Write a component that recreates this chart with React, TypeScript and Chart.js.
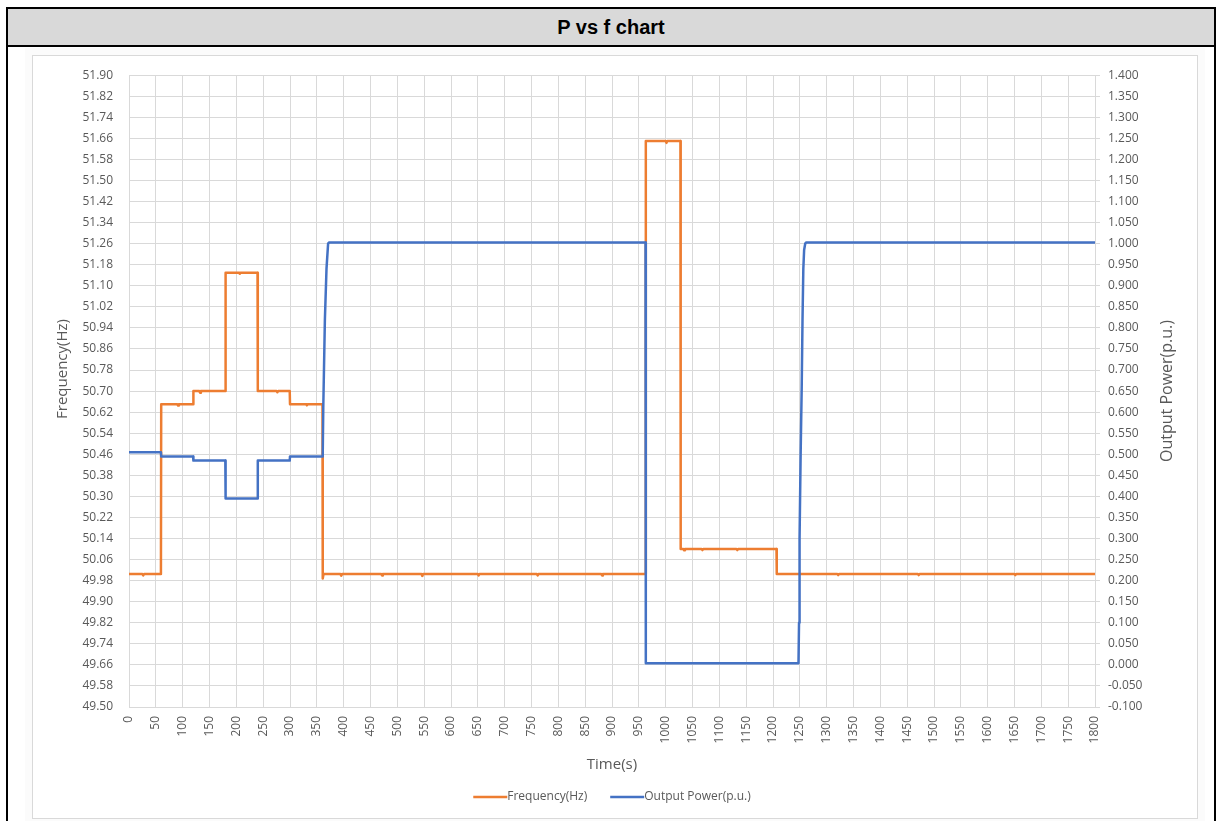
import React, { useEffect, useRef } from "react";
import { Chart, registerables } from "chart.js";

Chart.register(...registerables);

// ---------- data ----------
const freqTime = [
  0, 25, 26.5, 28, 59.5,
  60, 90, 91.5, 93, 119.5,
  120, 131, 132.5, 134, 179.5,
  180, 205, 206.5, 208, 239.5,
  240, 275, 276.5, 278, 299.5,
  300, 330, 331.5, 333, 360.5,
  361, 362.5,
  394, 395.5, 397,
  470, 471.5, 473,
  545, 546.5, 548,
  650, 651.5, 653,
  760, 761.5, 763,
  880, 881.5, 883,
  962.5,
  963, 1000, 1001.5, 1003, 1027.5,
  1028, 1033, 1034.5, 1036, 1067, 1068.5, 1070, 1132, 1133.5, 1135, 1206.5,
  1207, 1320, 1321.5, 1323, 1470, 1471.5, 1473, 1650, 1651.5, 1653, 1800,
];
const freqValue = [
  50.005, 50.005, 50.0, 50.005, 50.005,
  50.65, 50.65, 50.645, 50.65, 50.65,
  50.70, 50.70, 50.694, 50.70, 50.70,
  51.15, 51.15, 51.146, 51.15, 51.15,
  50.70, 50.70, 50.696, 50.70, 50.70,
  50.65, 50.65, 50.646, 50.65, 50.65,
  49.988, 50.005,
  50.005, 49.999, 50.005,
  50.005, 50.0, 50.005,
  50.005, 49.998, 50.005,
  50.005, 50.0, 50.005,
  50.005, 50.0, 50.005,
  50.005, 50.0, 50.005,
  50.005,
  51.65, 51.65, 51.643, 51.65, 51.65,
  50.10, 50.10, 50.095, 50.10, 50.10, 50.096, 50.10, 50.10, 50.096, 50.10, 50.10,
  50.005, 50.005, 50.001, 50.005, 50.005, 50.001, 50.005, 50.005, 50.001, 50.005, 50.005,
];

const powerTime = [
  0, 59.5, 60, 119.5, 120, 179.5, 180, 239.5, 240, 299.5, 300, 360.5,
  361, 362, 365, 368, 371, 373,
  962.5,
  963, 1247.5,
  1248.5, 1249.5, 1251.5, 1253.5, 1255, 1256.5, 1258, 1260, 1262,
  1800,
];
const powerValue = [
  0.505, 0.505, 0.495, 0.495, 0.485, 0.485, 0.395, 0.395, 0.485, 0.485, 0.495, 0.495,
  0.50, 0.61, 0.82, 0.94, 1.0, 1.003,
  1.003,
  0.004, 0.004,
  0.10, 0.30, 0.50, 0.66, 0.82, 0.94, 0.985, 1.0, 1.003,
  1.003,
];

const xTickLabels = [
  "0", "50", "100", "150", "200", "250", "300", "350", "400", "450", "500",
  "550", "600", "650", "700", "750", "800", "850", "900", "950", "1000",
  "1050", "1100", "1150", "1200", "1250", "1300", "1350", "1400", "1450",
  "1500", "1550", "1600", "1650", "1700", "1750", "1800",
];
const freqTickLabels = [
  "49.50", "49.58", "49.66", "49.74", "49.82", "49.90", "49.98", "50.06",
  "50.14", "50.22", "50.30", "50.38", "50.46", "50.54", "50.62", "50.70",
  "50.78", "50.86", "50.94", "51.02", "51.10", "51.18", "51.26", "51.34",
  "51.42", "51.50", "51.58", "51.66", "51.74", "51.82", "51.90",
];
const powerTickLabels = [
  "-0.100", "-0.050", "0.000", "0.050", "0.100", "0.150", "0.200", "0.250",
  "0.300", "0.350", "0.400", "0.450", "0.500", "0.550", "0.600", "0.650",
  "0.700", "0.750", "0.800", "0.850", "0.900", "0.950", "1.000", "1.050",
  "1.100", "1.150", "1.200", "1.250", "1.300", "1.350", "1.400",
];

const seriesNames = ["Frequency(Hz)", "Output Power(p.u.)"];
const chartTitle = "P vs f chart";
const xTitle = "Time(s)";
const yLeftTitle = "Frequency(Hz)";
const yRightTitle = "Output Power(p.u.)";

// ---------- styles ----------
const ORANGE = "#ED7D31";
const BLUE = "#4472C4";
const GRID = "#d9d9d9";
const TEXT = "#595959";
const FONT = '"Open Sans", sans-serif';

const CANVAS_TOP = 52;

const overlayPlugin = {
  id: "overlay",
  afterDraw(chart: any) {
    const { ctx } = chart;
    // axis titles (both read bottom-to-top)
    ctx.save();
    ctx.font = `15px ${FONT}`;
    ctx.fillStyle = TEXT;
    ctx.textAlign = "center";
    ctx.textBaseline = "middle";
    ctx.translate(30, 369 - CANVAS_TOP);
    ctx.rotate(-Math.PI / 2);
    ctx.fillText(yLeftTitle, 0, 0);
    ctx.restore();

    ctx.save();
    ctx.font = `16px ${FONT}`;
    ctx.fillStyle = TEXT;
    ctx.textAlign = "center";
    ctx.textBaseline = "middle";
    ctx.translate(1134, 391 - CANVAS_TOP);
    ctx.rotate(-Math.PI / 2);
    ctx.fillText(yRightTitle, 0, 0);
    ctx.restore();

    // legend
    ctx.save();
    ctx.font = `12px ${FONT}`;
    ctx.textBaseline = "middle";
    ctx.textAlign = "left";
    const lineLen = 34;
    const gap = 23;
    const ds = chart.data.datasets;
    const widths = ds.map((d: any) => ctx.measureText(d.label).width);
    let total = 0;
    widths.forEach((w: number, i: number) => {
      total += lineLen + w + (i < widths.length - 1 ? gap : 0);
    });
    let x = chart.width / 2 - total / 2 - 3;
    const y = 797 - CANVAS_TOP;
    ds.forEach((d: any, i: number) => {
      ctx.strokeStyle = d.borderColor;
      ctx.lineWidth = 2.5;
      ctx.beginPath();
      ctx.moveTo(x, y);
      ctx.lineTo(x + lineLen, y);
      ctx.stroke();
      ctx.fillStyle = TEXT;
      ctx.fillText(d.label, x + lineLen, y);
      x += lineLen + widths[i] + gap;
    });
    ctx.restore();
  },
};

export default function App() {
  const ref = useRef<HTMLCanvasElement | null>(null);

  useEffect(() => {
    if (!ref.current) return;
    const tickFont = { family: FONT, size: 12 };
    const chart = new Chart(ref.current, {
      type: "line",
      data: {
        datasets: [
          {
            label: seriesNames[0],
            data: freqTime.map((t, i) => ({ x: t, y: freqValue[i] })),
            borderColor: ORANGE,
            backgroundColor: ORANGE,
            borderWidth: 2.5,
            borderJoinStyle: "round",
            pointRadius: 0,
            tension: 0,
            yAxisID: "y",
            order: 1,
          },
          {
            label: seriesNames[1],
            data: powerTime.map((t, i) => ({ x: t, y: powerValue[i] })),
            borderColor: BLUE,
            backgroundColor: BLUE,
            borderWidth: 2.5,
            borderJoinStyle: "round",
            pointRadius: 0,
            tension: 0,
            yAxisID: "y1",
            order: 0,
          },
        ],
      },
      options: {
        animation: false,
        responsive: false,
        maintainAspectRatio: false,
        layout: { padding: { left: 0, right: 0, top: 10, bottom: 0 } },
        plugins: {
          legend: { display: false },
          tooltip: { enabled: false },
          title: { display: false },
        },
        scales: {
          x: {
            type: "linear",
            min: 0,
            max: 1800,
            afterBuildTicks: (s: any) => {
              s.ticks = xTickLabels.map((l) => ({ value: parseFloat(l) }));
            },
            afterFit: (s: any) => {
              s.height = 111;
            },
            ticks: {
              minRotation: 90,
              maxRotation: 90,
              padding: 9,
              autoSkip: false,
              font: tickFont,
              color: TEXT,
              callback: (_v: any, i: number) => xTickLabels[i],
            },
            grid: { color: GRID, drawTicks: false, lineWidth: 1 },
            border: { color: GRID },
            title: {
              display: true,
              text: xTitle,
              color: TEXT,
              font: { family: FONT, size: 15 },
              padding: { top: 0, bottom: 44 },
            },
          },
          y: {
            position: "left",
            min: 49.5,
            max: 51.9,
            afterBuildTicks: (s: any) => {
              s.ticks = freqTickLabels.map((l) => ({ value: parseFloat(l) }));
            },
            afterFit: (s: any) => {
              s.width = 96;
            },
            ticks: {
              padding: 16,
              font: tickFont,
              color: TEXT,
              autoSkip: false,
              callback: (_v: any, i: number) => freqTickLabels[i],
            },
            grid: { color: GRID, drawTicks: false, lineWidth: 1 },
            border: { color: GRID },
            title: { display: false },
          },
          y1: {
            position: "right",
            min: -0.1,
            max: 1.4,
            afterBuildTicks: (s: any) => {
              s.ticks = powerTickLabels.map((l) => ({ value: parseFloat(l) }));
            },
            afterFit: (s: any) => {
              s.width = 102;
            },
            ticks: {
              padding: 8,
              font: tickFont,
              color: TEXT,
              autoSkip: false,
              callback: (_v: any, i: number) => powerTickLabels[i],
            },
            grid: {
              drawOnChartArea: false,
              drawTicks: true,
              tickLength: 5,
              color: GRID,
            },
            border: { color: GRID },
          },
        },
      } as any,
      plugins: [overlayPlugin],
    });
    return () => chart.destroy();
  }, []);

  return (
    <div
      style={{
        position: "absolute",
        left: 0,
        top: 0,
        width: 1221,
        height: 821,
        background: "#fff",
        overflow: "hidden",
      }}
    >
      <div
        style={{
          position: "absolute",
          left: 6,
          top: 7,
          width: 1206,
          height: 36,
          background: "#d9d9d9",
          border: "2px solid #000",
          display: "flex",
          alignItems: "center",
          justifyContent: "center",
          fontFamily: '"Liberation Sans", Arial, sans-serif',
          fontWeight: "bold",
          fontSize: 20,
          color: "#000",
        }}
      >
        {chartTitle}
      </div>
      <div
        style={{
          position: "absolute",
          left: 6,
          top: 47,
          width: 1206,
          height: 800,
          borderLeft: "2px solid #000",
          borderRight: "2px solid #000",
        }}
      />
      <div
        style={{
          position: "absolute",
          left: 32,
          top: 55,
          width: 1164,
          height: 762,
          border: "1px solid #d9d9d9",
          boxShadow: "0 0 0 7px #fbfbfb",
        }}
      />
      <canvas
        ref={ref}
        width={1164}
        height={766}
        style={{ position: "absolute", left: 33, top: CANVAS_TOP, width: 1164, height: 766 }}
      />
    </div>
  );
}
